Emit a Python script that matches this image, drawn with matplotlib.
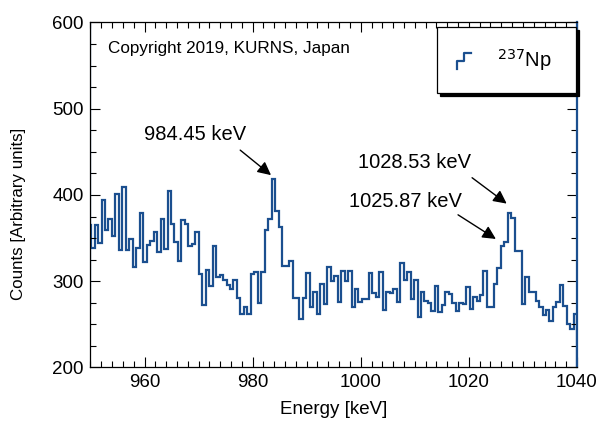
import numpy as np
import matplotlib.pyplot as plt
from matplotlib.legend_handler import HandlerBase
from matplotlib.lines import Line2D
from matplotlib.ticker import MultipleLocator

plt.rcParams['font.family'] = ['Liberation Sans', 'DejaVu Sans']

# 237Np spectrum, counts per channel (first channel starts just below 950 keV)
e_start = 949.475   # keV, low edge of first channel
ch_width = 0.6424   # keV per channel
counts = [
    365, 338, 365, 344, 394, 359, 372, 353, 401, 336,
    409, 336, 349, 316, 339, 379, 322, 342, 347, 357,
    334, 372, 337, 405, 366, 345, 323, 371, 366, 341,
    343, 357, 308, 272, 313, 295, 341, 305, 307, 302,
    296, 291, 302, 281, 262, 270, 262, 308, 311, 275,
    311, 359, 372, 419, 382, 363, 318, 318, 324, 280,
    280, 256, 281, 309, 270, 287, 262, 297, 274, 317,
    300, 306, 276, 312, 300, 312, 270, 291, 276, 279,
    279, 309, 286, 282, 311, 267, 287, 286, 291, 276,
    321, 301, 311, 279, 302, 258, 287, 277, 275, 266,
    295, 264, 272, 287, 285, 275, 266, 275, 274, 293,
    268, 282, 277, 284, 312, 270, 270, 297, 315, 341,
    345, 379, 373, 335, 335, 274, 305, 288, 288, 277,
    270, 261, 267, 254, 270, 276, 296, 271, 250, 245,
    262,
]

# peak labels: text, text centre, arrow tail, arrow tip (energy, counts)
peak_labels = ['984.45 keV', '1028.53 keV', '1025.87 keV']
peak_text = [(969.3, 470), (1010.0, 438), (1008.2, 392)]
peak_tails = [(977.7, 452), (1020.6, 420), (1018.0, 377)]
peak_tips = [(983.4, 423), (1027.0, 390), (1025.0, 349)]

line_color = '#1b4f8f'

edges = e_start + ch_width * np.arange(len(counts) + 1)

fig = plt.figure(figsize=(5.98, 4.24), dpi=100)
ax = fig.add_axes([0.1513, 0.1333, 0.8135, 0.8137])

ax.stairs(counts, edges, color=line_color, linewidth=1.6)
# the trace runs up the left frame edge in the original
ax.axvline(950, ymin=0.18, ymax=1.0, color=line_color, linewidth=1.6)

ax.set_xlim(950, 1040)
ax.set_ylim(200, 600)
ax.xaxis.set_major_locator(MultipleLocator(20))
ax.xaxis.set_minor_locator(MultipleLocator(2))
ax.yaxis.set_major_locator(MultipleLocator(100))
ax.yaxis.set_minor_locator(MultipleLocator(25))
ax.tick_params(which='both', direction='in', top=True, right=True,
               labelsize=13.5, width=0.8, pad=5)
ax.tick_params(which='major', length=7)
ax.tick_params(which='minor', length=4)
for s in ax.spines.values():
    s.set_linewidth(0.9)
ax.spines['right'].set_color(line_color)
ax.spines['right'].set_linewidth(1.6)

ax.set_xlabel('Energy [keV]', fontsize=13.5, labelpad=7)
ax.set_ylabel('Counts [Arbitrary units]', fontsize=12.2)
ax.yaxis.set_label_coords(-0.132, 0.445)

ax.text(0.035, 0.925, 'Copyright 2019, KURNS, Japan', transform=ax.transAxes,
        fontsize=12.3, va='center', ha='left')

for txt, pos, tail, tip in zip(peak_labels, peak_text, peak_tails, peak_tips):
    ax.text(pos[0], pos[1], txt, fontsize=14.5, ha='center', va='center')
    ax.annotate('', xy=tip, xytext=tail,
                arrowprops=dict(arrowstyle='-|>', color='black', lw=1.0,
                                mutation_scale=20, shrinkA=0, shrinkB=0))


class StepHandler(HandlerBase):
    def create_artists(self, legend, orig_handle, xdescent, ydescent,
                       width, height, fontsize, trans):
        x0 = -xdescent
        x1 = -xdescent + width * 0.42
        xm = (x0 + x1) / 2
        y0 = -ydescent - height * 0.15
        y1 = -ydescent + height * 1.0
        ym = (y0 + y1) / 2
        ln = Line2D([x0, x0, xm, xm, x1], [y0, ym, ym, y1, y1],
                    color=line_color, lw=1.6, transform=trans)
        return [ln]


handle = Line2D([], [], color=line_color)
leg = ax.legend([handle], ['$^{237}$Np'], handler_map={Line2D: StepHandler()},
                loc='upper left', bbox_to_anchor=(0.712, 0.987, 0.287, 0.0),
                mode='expand', borderaxespad=0, fontsize=14.5,
                frameon=True, fancybox=False, shadow={'color': 'black', 'alpha': 1},
                borderpad=1.0, handlelength=1.6, handletextpad=0.4)
leg.get_frame().set_edgecolor('black')
leg.get_frame().set_linewidth(0.9)

fig.savefig('out.png', dpi=100)
